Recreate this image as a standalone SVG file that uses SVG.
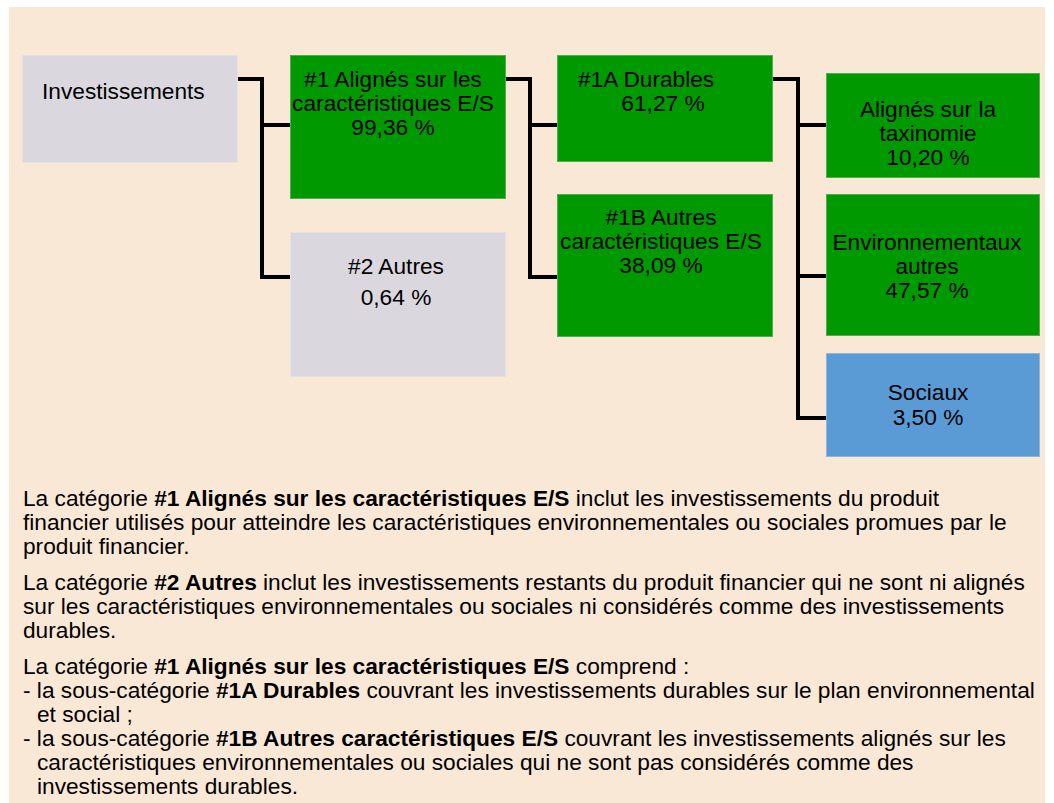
<svg xmlns="http://www.w3.org/2000/svg" width="1054" height="803" viewBox="0 0 1054 803">
<style>
text{font-family:"Liberation Sans",Arial,sans-serif;font-size:22.7px;fill:#000}
.c{text-anchor:middle}
.b{font-weight:bold}
.g{fill:#009900;stroke:#4fae4f;stroke-width:1}
.gr{fill:#DAD8DE;stroke:#e6e2e2;stroke-width:1}
.bl{fill:#5B9BD5;stroke:#8cb8e0;stroke-width:1}
.ln{fill:none;stroke:#000;stroke-width:4;stroke-linejoin:miter}
</style>
<rect x="0" y="0" width="1054" height="803" fill="#ffffff"/>
<rect x="9" y="7" width="1036" height="796" fill="#FAE8D6"/>
<g id="connectors">
<path class="ln" d="M237,79 H262 V277 H290 M262,125 H290"/>
<path class="ln" d="M505,79 H530 V277 H557 M530,125 H557"/>
<path class="ln" d="M772,79 H798 V418 H826 M798,125 H826 M798,276 H826"/>
</g>
<g id="n-investissements">
<rect class="gr" x="22.5" y="55.5" width="215" height="107"/>
<text x="42" y="99">Investissements</text>
</g>
<g id="n-1">
<rect class="g" x="290.5" y="55.5" width="215" height="143"/>
<text class="c" x="393" y="87">#1 Alignés sur les</text>
<text class="c" x="393" y="111">caractéristiques E/S</text>
<text class="c" x="393" y="135">99,36 %</text>
</g>
<g id="n-2">
<rect class="gr" x="290.5" y="232.5" width="215" height="144"/>
<text class="c" x="396" y="274">#2 Autres</text>
<text class="c" x="396" y="305">0,64 %</text>
</g>
<g id="n-1a">
<rect class="g" x="557.5" y="55.5" width="215" height="106"/>
<text x="578" y="87">#1A Durables</text>
<text class="c" x="663" y="111">61,27 %</text>
</g>
<g id="n-1b">
<rect class="g" x="557.5" y="194.5" width="215" height="142"/>
<text class="c" x="661" y="225">#1B Autres</text>
<text class="c" x="661" y="249">caractéristiques E/S</text>
<text class="c" x="661" y="273">38,09 %</text>
</g>
<g id="n-taxo">
<rect class="g" x="826.5" y="73.5" width="213" height="104"/>
<text class="c" x="928" y="117">Alignés sur la</text>
<text class="c" x="928" y="141">taxinomie</text>
<text class="c" x="928" y="165">10,20 %</text>
</g>
<g id="n-env">
<rect class="g" x="826.5" y="194.5" width="213" height="141"/>
<text class="c" x="927" y="250">Environnementaux</text>
<text class="c" x="927" y="274">autres</text>
<text class="c" x="927" y="298">47,57 %</text>
</g>
<g id="n-soc">
<rect class="bl" x="826.5" y="353.5" width="213" height="103"/>
<text class="c" x="928" y="400">Sociaux</text>
<text class="c" x="928" y="425">3,50 %</text>
</g>
<g id="legend">
<text x="23" y="506">La catégorie <tspan class="b">#1 Alignés sur les caractéristiques E/S</tspan> inclut les investissements du produit</text>
<text x="23" y="530">financier utilisés pour atteindre les caractéristiques environnementales ou sociales promues par le</text>
<text x="23" y="554">produit financier.</text>
<text x="23" y="590">La catégorie <tspan class="b">#2 Autres</tspan> inclut les investissements restants du produit financier qui ne sont ni alignés</text>
<text x="23" y="614">sur les caractéristiques environnementales ou sociales ni considérés comme des investissements</text>
<text x="23" y="638">durables.</text>
<text x="23" y="674">La catégorie <tspan class="b">#1 Alignés sur les caractéristiques E/S</tspan> comprend :</text>
<text x="23" y="698">- la sous-catégorie <tspan class="b">#1A Durables</tspan> couvrant les investissements durables sur le plan environnemental</text>
<text x="37" y="722">et social ;</text>
<text x="23" y="746">- la sous-catégorie <tspan class="b">#1B Autres caractéristiques E/S</tspan> couvrant les investissements alignés sur les</text>
<text x="37" y="770">caractéristiques environnementales ou sociales qui ne sont pas considérés comme des</text>
<text x="37" y="794">investissements durables.</text>
</g>
</svg>
